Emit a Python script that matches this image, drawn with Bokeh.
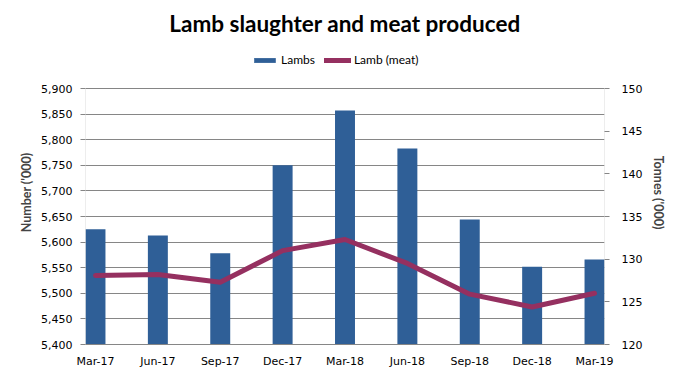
from bokeh.plotting import figure
from bokeh.models import (Range1d, LinearAxis, FixedTicker, NumeralTickFormatter,
                          Legend, LegendItem, ColumnDataSource, BoxAnnotation)
from bokeh.embed import file_html
from bokeh.resources import INLINE

quarters = ["Mar-17", "Jun-17", "Sep-17", "Dec-17", "Mar-18", "Jun-18", "Sep-18", "Dec-18", "Mar-19"]
lambs = [5625, 5613, 5578, 5750, 5857, 5783, 5644, 5552, 5566]
meat = [128.1, 128.2, 127.3, 131.0, 132.3, 129.5, 125.9, 124.4, 126.0]
left_ticks = [5400, 5450, 5500, 5550, 5600, 5650, 5700, 5750, 5800, 5850, 5900]
right_ticks = [120, 125, 130, 135, 140, 145, 150]

xs = list(range(len(quarters)))
src = ColumnDataSource(dict(x=xs, lambs=lambs, meat=meat))

BLUE = "#2F5F97"
RED = "#953060"
GRID = "#868686"

# frame extends above the axes' top so the legend fits inside it
Y0, Y1 = left_ticks[0], left_ticks[-1]
R0, R1 = right_ticks[0], right_ticks[-1]
extra = 48.0 / 256.0  # extra headroom as a fraction of the axis span
p = figure(width=673, height=372, output_backend="svg", toolbar_location=None,
           x_range=Range1d(-0.16, 8.16),
           y_range=Range1d(Y0, Y1 + (Y1 - Y0) * extra),
           min_border_left=85, min_border_right=69, min_border_top=40, min_border_bottom=28,
           title="Lamb slaughter and meat produced")
p.extra_y_ranges = {"meat": Range1d(R0, R1 + (R1 - R0) * extra)}
p.outline_line_color = None
p.background_fill_color = "white"

p.title.align = "center"
p.title.text_font = "Lato"
p.title.text_font_style = "bold"
p.title.text_font_size = "22.5px"
p.title.text_color = "black"
p.title.standoff = 7
p.title.offset = -4

bars = p.vbar(x="x", top="lambs", bottom=Y0, width=0.32, source=src,
              fill_color=BLUE, line_color=None)
ln = p.line(x="x", y="meat", source=src, y_range_name="meat",
            line_color=RED, line_width=5, line_cap="round", line_join="round")

# outline of the axes area (left / right axis lines)
p.add_layout(BoxAnnotation(left=-0.16, right=8.16, bottom=Y0, top=Y1,
                           fill_alpha=0, line_color=GRID, line_width=1))

# x axis
xa = p.xaxis[0]
xa.ticker = FixedTicker(ticks=xs)
xa.major_label_overrides = {i: q for i, q in enumerate(quarters)}
xa.major_tick_out = 0
xa.major_tick_in = 0
xa.minor_tick_line_color = None
xa.axis_line_color = GRID
xa.major_label_text_font = "DejaVu Sans"
xa.major_label_text_font_size = "11px"
xa.major_label_text_color = "black"
xa.major_label_standoff = 10
p.xgrid.grid_line_color = None

# left axis
ya = p.yaxis[0]
ya.ticker = FixedTicker(ticks=left_ticks)
ya.formatter = NumeralTickFormatter(format="0,0")
ya.axis_label = "Number ('000)"
ya.axis_label_text_font = "Lato"
ya.axis_label_text_font_style = "bold"
ya.axis_label_text_font_size = "12.5px"
ya.axis_label_standoff = 4
ya.major_label_text_font = "DejaVu Sans"
ya.major_label_text_font_size = "11px"
ya.major_label_text_color = "black"
ya.major_label_standoff = 8
ya.major_tick_out = 5
ya.major_tick_in = 0
ya.minor_tick_line_color = None
ya.axis_line_color = None
ya.major_tick_line_color = GRID
p.ygrid.ticker = FixedTicker(ticks=left_ticks)
p.ygrid.grid_line_color = GRID

# right axis
ra = LinearAxis(y_range_name="meat", ticker=FixedTicker(ticks=right_ticks),
                axis_label="Tonnes ('000)")
ra.axis_label_text_font = "Lato"
ra.axis_label_text_font_style = "bold"
ra.axis_label_text_font_size = "12.5px"
ra.axis_label_standoff = 6
ra.major_label_text_font = "DejaVu Sans"
ra.major_label_text_font_size = "11px"
ra.major_label_text_color = "black"
ra.major_label_standoff = 12
ra.major_tick_out = 5
ra.major_tick_in = 0
ra.minor_tick_line_color = None
ra.axis_line_color = None
ra.major_tick_line_color = GRID
p.add_layout(ra, "right")

legend = Legend(items=[LegendItem(label="Lambs", renderers=[bars]),
                       LegendItem(label="Lamb (meat)", renderers=[ln])],
                orientation="horizontal", location=(166, 277),
                label_text_font="Lato", label_text_font_size="12px",
                label_text_color="black",
                glyph_width=27, glyph_height=6, label_standoff=3, spacing=9,
                border_line_color=None, background_fill_alpha=0,
                padding=4, margin=0)
p.add_layout(legend, "center")

open("out.html", "w").write(file_html(p, INLINE))
